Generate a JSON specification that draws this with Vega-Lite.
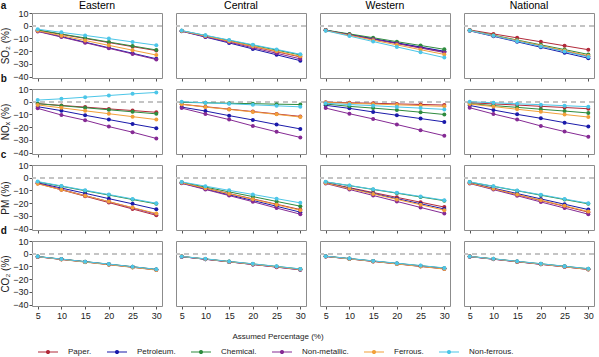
{
"$schema":"https://vega.github.io/schema/vega-lite/v6.json",
"padding":{"left":0,"top":0,"right":2,"bottom":0},
"config":{
"font":"Liberation Sans",
"view":{"stroke":"#8c8c8c","strokeWidth":1},
"facet":{"spacing":14},
"axis":{"grid":false,"domain":false,"tickColor":"#555555","tickSize":3,"labelFontSize":9,"labelColor":"#222222","titleFontSize":10,"titleFontWeight":"normal","titleColor":"#222222","labelPadding":1,"titlePadding":2,"labelOverlap":false,"labelFlush":false},
"title":{"fontSize":10,"fontWeight":"bold","anchor":"start","frame":"bounds","offset":1,"color":"#111111"}
},
"data":{"values":[
{"p":"SO2","r":"Eastern","s":"Paper.","x":5,"v":-3.5},{"p":"SO2","r":"Eastern","s":"Paper.","x":10,"v":-6.8},{"p":"SO2","r":"Eastern","s":"Paper.","x":15,"v":-10.0},{"p":"SO2","r":"Eastern","s":"Paper.","x":20,"v":-13.2},{"p":"SO2","r":"Eastern","s":"Paper.","x":25,"v":-16.4},{"p":"SO2","r":"Eastern","s":"Paper.","x":30,"v":-19.5},
{"p":"SO2","r":"Eastern","s":"Petroleum.","x":5,"v":-4.2},{"p":"SO2","r":"Eastern","s":"Petroleum.","x":10,"v":-8.5},{"p":"SO2","r":"Eastern","s":"Petroleum.","x":15,"v":-12.9},{"p":"SO2","r":"Eastern","s":"Petroleum.","x":20,"v":-17.3},{"p":"SO2","r":"Eastern","s":"Petroleum.","x":25,"v":-21.6},{"p":"SO2","r":"Eastern","s":"Petroleum.","x":30,"v":-25.9},
{"p":"SO2","r":"Eastern","s":"Chemical.","x":5,"v":-3.3},{"p":"SO2","r":"Eastern","s":"Chemical.","x":10,"v":-6.5},{"p":"SO2","r":"Eastern","s":"Chemical.","x":15,"v":-9.6},{"p":"SO2","r":"Eastern","s":"Chemical.","x":20,"v":-12.8},{"p":"SO2","r":"Eastern","s":"Chemical.","x":25,"v":-15.9},{"p":"SO2","r":"Eastern","s":"Chemical.","x":30,"v":-19.0},
{"p":"SO2","r":"Eastern","s":"Non-metallic.","x":5,"v":-4.5},{"p":"SO2","r":"Eastern","s":"Non-metallic.","x":10,"v":-8.9},{"p":"SO2","r":"Eastern","s":"Non-metallic.","x":15,"v":-13.3},{"p":"SO2","r":"Eastern","s":"Non-metallic.","x":20,"v":-17.7},{"p":"SO2","r":"Eastern","s":"Non-metallic.","x":25,"v":-22.1},{"p":"SO2","r":"Eastern","s":"Non-metallic.","x":30,"v":-26.5},
{"p":"SO2","r":"Eastern","s":"Ferrous.","x":5,"v":-4.0},{"p":"SO2","r":"Eastern","s":"Ferrous.","x":10,"v":-7.8},{"p":"SO2","r":"Eastern","s":"Ferrous.","x":15,"v":-11.6},{"p":"SO2","r":"Eastern","s":"Ferrous.","x":20,"v":-15.4},{"p":"SO2","r":"Eastern","s":"Ferrous.","x":25,"v":-19.2},{"p":"SO2","r":"Eastern","s":"Ferrous.","x":30,"v":-23.0},
{"p":"SO2","r":"Eastern","s":"Non-ferrous.","x":5,"v":-2.7},{"p":"SO2","r":"Eastern","s":"Non-ferrous.","x":10,"v":-5.2},{"p":"SO2","r":"Eastern","s":"Non-ferrous.","x":15,"v":-7.6},{"p":"SO2","r":"Eastern","s":"Non-ferrous.","x":20,"v":-10.1},{"p":"SO2","r":"Eastern","s":"Non-ferrous.","x":25,"v":-12.7},{"p":"SO2","r":"Eastern","s":"Non-ferrous.","x":30,"v":-15.3},
{"p":"SO2","r":"Central","s":"Paper.","x":5,"v":-4.0},{"p":"SO2","r":"Central","s":"Paper.","x":10,"v":-8.1},{"p":"SO2","r":"Central","s":"Paper.","x":15,"v":-12.2},{"p":"SO2","r":"Central","s":"Paper.","x":20,"v":-16.3},{"p":"SO2","r":"Central","s":"Paper.","x":25,"v":-20.4},{"p":"SO2","r":"Central","s":"Paper.","x":30,"v":-24.5},
{"p":"SO2","r":"Central","s":"Petroleum.","x":5,"v":-4.3},{"p":"SO2","r":"Central","s":"Petroleum.","x":10,"v":-8.9},{"p":"SO2","r":"Central","s":"Petroleum.","x":15,"v":-13.5},{"p":"SO2","r":"Central","s":"Petroleum.","x":20,"v":-18.2},{"p":"SO2","r":"Central","s":"Petroleum.","x":25,"v":-22.8},{"p":"SO2","r":"Central","s":"Petroleum.","x":30,"v":-27.4},
{"p":"SO2","r":"Central","s":"Chemical.","x":5,"v":-3.9},{"p":"SO2","r":"Central","s":"Chemical.","x":10,"v":-7.7},{"p":"SO2","r":"Central","s":"Chemical.","x":15,"v":-11.5},{"p":"SO2","r":"Central","s":"Chemical.","x":20,"v":-15.3},{"p":"SO2","r":"Central","s":"Chemical.","x":25,"v":-19.1},{"p":"SO2","r":"Central","s":"Chemical.","x":30,"v":-22.9},
{"p":"SO2","r":"Central","s":"Non-metallic.","x":5,"v":-4.2},{"p":"SO2","r":"Central","s":"Non-metallic.","x":10,"v":-8.6},{"p":"SO2","r":"Central","s":"Non-metallic.","x":15,"v":-12.9},{"p":"SO2","r":"Central","s":"Non-metallic.","x":20,"v":-17.3},{"p":"SO2","r":"Central","s":"Non-metallic.","x":25,"v":-21.6},{"p":"SO2","r":"Central","s":"Non-metallic.","x":30,"v":-26.0},
{"p":"SO2","r":"Central","s":"Ferrous.","x":5,"v":-4.1},{"p":"SO2","r":"Central","s":"Ferrous.","x":10,"v":-8.1},{"p":"SO2","r":"Central","s":"Ferrous.","x":15,"v":-12.1},{"p":"SO2","r":"Central","s":"Ferrous.","x":20,"v":-16.1},{"p":"SO2","r":"Central","s":"Ferrous.","x":25,"v":-20.0},{"p":"SO2","r":"Central","s":"Ferrous.","x":30,"v":-24.0},
{"p":"SO2","r":"Central","s":"Non-ferrous.","x":5,"v":-3.8},{"p":"SO2","r":"Central","s":"Non-ferrous.","x":10,"v":-7.5},{"p":"SO2","r":"Central","s":"Non-ferrous.","x":15,"v":-11.2},{"p":"SO2","r":"Central","s":"Non-ferrous.","x":20,"v":-14.9},{"p":"SO2","r":"Central","s":"Non-ferrous.","x":25,"v":-18.6},{"p":"SO2","r":"Central","s":"Non-ferrous.","x":30,"v":-22.4},
{"p":"SO2","r":"Western","s":"Paper.","x":5,"v":-3.5},{"p":"SO2","r":"Western","s":"Paper.","x":10,"v":-6.9},{"p":"SO2","r":"Western","s":"Paper.","x":15,"v":-10.3},{"p":"SO2","r":"Western","s":"Paper.","x":20,"v":-13.7},{"p":"SO2","r":"Western","s":"Paper.","x":25,"v":-17.1},{"p":"SO2","r":"Western","s":"Paper.","x":30,"v":-20.5},
{"p":"SO2","r":"Western","s":"Petroleum.","x":5,"v":-3.6},{"p":"SO2","r":"Western","s":"Petroleum.","x":10,"v":-6.9},{"p":"SO2","r":"Western","s":"Petroleum.","x":15,"v":-10.2},{"p":"SO2","r":"Western","s":"Petroleum.","x":20,"v":-13.4},{"p":"SO2","r":"Western","s":"Petroleum.","x":25,"v":-16.7},{"p":"SO2","r":"Western","s":"Petroleum.","x":30,"v":-20.0},
{"p":"SO2","r":"Western","s":"Chemical.","x":5,"v":-3.4},{"p":"SO2","r":"Western","s":"Chemical.","x":10,"v":-6.4},{"p":"SO2","r":"Western","s":"Chemical.","x":15,"v":-9.4},{"p":"SO2","r":"Western","s":"Chemical.","x":20,"v":-12.5},{"p":"SO2","r":"Western","s":"Chemical.","x":25,"v":-15.5},{"p":"SO2","r":"Western","s":"Chemical.","x":30,"v":-18.5},
{"p":"SO2","r":"Western","s":"Non-metallic.","x":5,"v":-3.6},{"p":"SO2","r":"Western","s":"Non-metallic.","x":10,"v":-7.1},{"p":"SO2","r":"Western","s":"Non-metallic.","x":15,"v":-10.6},{"p":"SO2","r":"Western","s":"Non-metallic.","x":20,"v":-14.0},{"p":"SO2","r":"Western","s":"Non-metallic.","x":25,"v":-17.5},{"p":"SO2","r":"Western","s":"Non-metallic.","x":30,"v":-21.0},
{"p":"SO2","r":"Western","s":"Ferrous.","x":5,"v":-3.8},{"p":"SO2","r":"Western","s":"Ferrous.","x":10,"v":-7.5},{"p":"SO2","r":"Western","s":"Ferrous.","x":15,"v":-11.3},{"p":"SO2","r":"Western","s":"Ferrous.","x":20,"v":-15.0},{"p":"SO2","r":"Western","s":"Ferrous.","x":25,"v":-18.8},{"p":"SO2","r":"Western","s":"Ferrous.","x":30,"v":-22.5},
{"p":"SO2","r":"Western","s":"Non-ferrous.","x":5,"v":-3.9},{"p":"SO2","r":"Western","s":"Non-ferrous.","x":10,"v":-8.1},{"p":"SO2","r":"Western","s":"Non-ferrous.","x":15,"v":-12.4},{"p":"SO2","r":"Western","s":"Non-ferrous.","x":20,"v":-16.6},{"p":"SO2","r":"Western","s":"Non-ferrous.","x":25,"v":-20.8},{"p":"SO2","r":"Western","s":"Non-ferrous.","x":30,"v":-25.0},
{"p":"SO2","r":"National","s":"Paper.","x":5,"v":-3.3},{"p":"SO2","r":"National","s":"Paper.","x":10,"v":-6.4},{"p":"SO2","r":"National","s":"Paper.","x":15,"v":-9.5},{"p":"SO2","r":"National","s":"Paper.","x":20,"v":-12.6},{"p":"SO2","r":"National","s":"Paper.","x":25,"v":-15.7},{"p":"SO2","r":"National","s":"Paper.","x":30,"v":-18.8},
{"p":"SO2","r":"National","s":"Petroleum.","x":5,"v":-4.0},{"p":"SO2","r":"National","s":"Petroleum.","x":10,"v":-8.3},{"p":"SO2","r":"National","s":"Petroleum.","x":15,"v":-12.6},{"p":"SO2","r":"National","s":"Petroleum.","x":20,"v":-16.9},{"p":"SO2","r":"National","s":"Petroleum.","x":25,"v":-21.2},{"p":"SO2","r":"National","s":"Petroleum.","x":30,"v":-25.5},
{"p":"SO2","r":"National","s":"Chemical.","x":5,"v":-3.6},{"p":"SO2","r":"National","s":"Chemical.","x":10,"v":-7.4},{"p":"SO2","r":"National","s":"Chemical.","x":15,"v":-11.2},{"p":"SO2","r":"National","s":"Chemical.","x":20,"v":-15.0},{"p":"SO2","r":"National","s":"Chemical.","x":25,"v":-18.7},{"p":"SO2","r":"National","s":"Chemical.","x":30,"v":-22.5},
{"p":"SO2","r":"National","s":"Non-metallic.","x":5,"v":-3.8},{"p":"SO2","r":"National","s":"Non-metallic.","x":10,"v":-7.8},{"p":"SO2","r":"National","s":"Non-metallic.","x":15,"v":-11.9},{"p":"SO2","r":"National","s":"Non-metallic.","x":20,"v":-15.9},{"p":"SO2","r":"National","s":"Non-metallic.","x":25,"v":-19.9},{"p":"SO2","r":"National","s":"Non-metallic.","x":30,"v":-24.0},
{"p":"SO2","r":"National","s":"Ferrous.","x":5,"v":-3.7},{"p":"SO2","r":"National","s":"Ferrous.","x":10,"v":-7.7},{"p":"SO2","r":"National","s":"Ferrous.","x":15,"v":-11.6},{"p":"SO2","r":"National","s":"Ferrous.","x":20,"v":-15.6},{"p":"SO2","r":"National","s":"Ferrous.","x":25,"v":-19.5},{"p":"SO2","r":"National","s":"Ferrous.","x":30,"v":-23.5},
{"p":"SO2","r":"National","s":"Non-ferrous.","x":5,"v":-3.8},{"p":"SO2","r":"National","s":"Non-ferrous.","x":10,"v":-7.9},{"p":"SO2","r":"National","s":"Non-ferrous.","x":15,"v":-12.1},{"p":"SO2","r":"National","s":"Non-ferrous.","x":20,"v":-16.2},{"p":"SO2","r":"National","s":"Non-ferrous.","x":25,"v":-20.3},{"p":"SO2","r":"National","s":"Non-ferrous.","x":30,"v":-24.5},
{"p":"NOx","r":"Eastern","s":"Paper.","x":5,"v":-1.5},{"p":"NOx","r":"Eastern","s":"Paper.","x":10,"v":-2.9},{"p":"NOx","r":"Eastern","s":"Paper.","x":15,"v":-4.2},{"p":"NOx","r":"Eastern","s":"Paper.","x":20,"v":-5.6},{"p":"NOx","r":"Eastern","s":"Paper.","x":25,"v":-6.9},{"p":"NOx","r":"Eastern","s":"Paper.","x":30,"v":-8.3},
{"p":"NOx","r":"Eastern","s":"Petroleum.","x":5,"v":-3.9},{"p":"NOx","r":"Eastern","s":"Petroleum.","x":10,"v":-7.0},{"p":"NOx","r":"Eastern","s":"Petroleum.","x":15,"v":-10.6},{"p":"NOx","r":"Eastern","s":"Petroleum.","x":20,"v":-14.0},{"p":"NOx","r":"Eastern","s":"Petroleum.","x":25,"v":-17.4},{"p":"NOx","r":"Eastern","s":"Petroleum.","x":30,"v":-20.7},
{"p":"NOx","r":"Eastern","s":"Chemical.","x":5,"v":-1.5},{"p":"NOx","r":"Eastern","s":"Chemical.","x":10,"v":-3.1},{"p":"NOx","r":"Eastern","s":"Chemical.","x":15,"v":-4.7},{"p":"NOx","r":"Eastern","s":"Chemical.","x":20,"v":-6.3},{"p":"NOx","r":"Eastern","s":"Chemical.","x":25,"v":-7.9},{"p":"NOx","r":"Eastern","s":"Chemical.","x":30,"v":-9.5},
{"p":"NOx","r":"Eastern","s":"Non-metallic.","x":5,"v":-5.2},{"p":"NOx","r":"Eastern","s":"Non-metallic.","x":10,"v":-10.4},{"p":"NOx","r":"Eastern","s":"Non-metallic.","x":15,"v":-14.5},{"p":"NOx","r":"Eastern","s":"Non-metallic.","x":20,"v":-19.5},{"p":"NOx","r":"Eastern","s":"Non-metallic.","x":25,"v":-23.9},{"p":"NOx","r":"Eastern","s":"Non-metallic.","x":30,"v":-28.8},
{"p":"NOx","r":"Eastern","s":"Ferrous.","x":5,"v":-2.5},{"p":"NOx","r":"Eastern","s":"Ferrous.","x":10,"v":-4.8},{"p":"NOx","r":"Eastern","s":"Ferrous.","x":15,"v":-7.1},{"p":"NOx","r":"Eastern","s":"Ferrous.","x":20,"v":-9.4},{"p":"NOx","r":"Eastern","s":"Ferrous.","x":25,"v":-11.7},{"p":"NOx","r":"Eastern","s":"Ferrous.","x":30,"v":-14.0},
{"p":"NOx","r":"Eastern","s":"Non-ferrous.","x":5,"v":1.3},{"p":"NOx","r":"Eastern","s":"Non-ferrous.","x":10,"v":2.3},{"p":"NOx","r":"Eastern","s":"Non-ferrous.","x":15,"v":3.6},{"p":"NOx","r":"Eastern","s":"Non-ferrous.","x":20,"v":4.9},{"p":"NOx","r":"Eastern","s":"Non-ferrous.","x":25,"v":6.2},{"p":"NOx","r":"Eastern","s":"Non-ferrous.","x":30,"v":7.3},
{"p":"NOx","r":"Central","s":"Paper.","x":5,"v":-2.0},{"p":"NOx","r":"Central","s":"Paper.","x":10,"v":-3.9},{"p":"NOx","r":"Central","s":"Paper.","x":15,"v":-5.8},{"p":"NOx","r":"Central","s":"Paper.","x":20,"v":-7.7},{"p":"NOx","r":"Central","s":"Paper.","x":25,"v":-9.6},{"p":"NOx","r":"Central","s":"Paper.","x":30,"v":-11.5},
{"p":"NOx","r":"Central","s":"Petroleum.","x":5,"v":-4.2},{"p":"NOx","r":"Central","s":"Petroleum.","x":10,"v":-7.3},{"p":"NOx","r":"Central","s":"Petroleum.","x":15,"v":-10.9},{"p":"NOx","r":"Central","s":"Petroleum.","x":20,"v":-14.3},{"p":"NOx","r":"Central","s":"Petroleum.","x":25,"v":-17.9},{"p":"NOx","r":"Central","s":"Petroleum.","x":30,"v":-21.3},
{"p":"NOx","r":"Central","s":"Chemical.","x":5,"v":-0.5},{"p":"NOx","r":"Central","s":"Chemical.","x":10,"v":-0.8},{"p":"NOx","r":"Central","s":"Chemical.","x":15,"v":-1.2},{"p":"NOx","r":"Central","s":"Chemical.","x":20,"v":-1.5},{"p":"NOx","r":"Central","s":"Chemical.","x":25,"v":-1.9},{"p":"NOx","r":"Central","s":"Chemical.","x":30,"v":-2.2},
{"p":"NOx","r":"Central","s":"Non-metallic.","x":5,"v":-5.0},{"p":"NOx","r":"Central","s":"Non-metallic.","x":10,"v":-9.6},{"p":"NOx","r":"Central","s":"Non-metallic.","x":15,"v":-14.0},{"p":"NOx","r":"Central","s":"Non-metallic.","x":20,"v":-19.0},{"p":"NOx","r":"Central","s":"Non-metallic.","x":25,"v":-23.6},{"p":"NOx","r":"Central","s":"Non-metallic.","x":30,"v":-28.0},
{"p":"NOx","r":"Central","s":"Ferrous.","x":5,"v":-2.0},{"p":"NOx","r":"Central","s":"Ferrous.","x":10,"v":-4.2},{"p":"NOx","r":"Central","s":"Ferrous.","x":15,"v":-6.0},{"p":"NOx","r":"Central","s":"Ferrous.","x":20,"v":-8.0},{"p":"NOx","r":"Central","s":"Ferrous.","x":25,"v":-9.9},{"p":"NOx","r":"Central","s":"Ferrous.","x":30,"v":-12.0},
{"p":"NOx","r":"Central","s":"Non-ferrous.","x":5,"v":0.0},{"p":"NOx","r":"Central","s":"Non-ferrous.","x":10,"v":-0.8},{"p":"NOx","r":"Central","s":"Non-ferrous.","x":15,"v":-1.6},{"p":"NOx","r":"Central","s":"Non-ferrous.","x":20,"v":-2.4},{"p":"NOx","r":"Central","s":"Non-ferrous.","x":25,"v":-3.2},{"p":"NOx","r":"Central","s":"Non-ferrous.","x":30,"v":-4.0},
{"p":"NOx","r":"Western","s":"Paper.","x":5,"v":-0.3},{"p":"NOx","r":"Western","s":"Paper.","x":10,"v":-0.8},{"p":"NOx","r":"Western","s":"Paper.","x":15,"v":-1.2},{"p":"NOx","r":"Western","s":"Paper.","x":20,"v":-1.7},{"p":"NOx","r":"Western","s":"Paper.","x":25,"v":-2.1},{"p":"NOx","r":"Western","s":"Paper.","x":30,"v":-2.6},
{"p":"NOx","r":"Western","s":"Petroleum.","x":5,"v":-2.8},{"p":"NOx","r":"Western","s":"Petroleum.","x":10,"v":-5.2},{"p":"NOx","r":"Western","s":"Petroleum.","x":15,"v":-8.0},{"p":"NOx","r":"Western","s":"Petroleum.","x":20,"v":-10.6},{"p":"NOx","r":"Western","s":"Petroleum.","x":25,"v":-13.2},{"p":"NOx","r":"Western","s":"Petroleum.","x":30,"v":-15.8},
{"p":"NOx","r":"Western","s":"Chemical.","x":5,"v":-1.8},{"p":"NOx","r":"Western","s":"Chemical.","x":10,"v":-3.6},{"p":"NOx","r":"Western","s":"Chemical.","x":15,"v":-5.0},{"p":"NOx","r":"Western","s":"Chemical.","x":20,"v":-6.5},{"p":"NOx","r":"Western","s":"Chemical.","x":25,"v":-8.2},{"p":"NOx","r":"Western","s":"Chemical.","x":30,"v":-10.0},
{"p":"NOx","r":"Western","s":"Non-metallic.","x":5,"v":-5.0},{"p":"NOx","r":"Western","s":"Non-metallic.","x":10,"v":-9.4},{"p":"NOx","r":"Western","s":"Non-metallic.","x":15,"v":-13.5},{"p":"NOx","r":"Western","s":"Non-metallic.","x":20,"v":-17.9},{"p":"NOx","r":"Western","s":"Non-metallic.","x":25,"v":-22.3},{"p":"NOx","r":"Western","s":"Non-metallic.","x":30,"v":-26.7},
{"p":"NOx","r":"Western","s":"Ferrous.","x":5,"v":-0.6},{"p":"NOx","r":"Western","s":"Ferrous.","x":10,"v":-1.2},{"p":"NOx","r":"Western","s":"Ferrous.","x":15,"v":-1.8},{"p":"NOx","r":"Western","s":"Ferrous.","x":20,"v":-2.4},{"p":"NOx","r":"Western","s":"Ferrous.","x":25,"v":-3.0},{"p":"NOx","r":"Western","s":"Ferrous.","x":30,"v":-3.6},
{"p":"NOx","r":"Western","s":"Non-ferrous.","x":5,"v":-1.2},{"p":"NOx","r":"Western","s":"Non-ferrous.","x":10,"v":-2.2},{"p":"NOx","r":"Western","s":"Non-ferrous.","x":15,"v":-3.1},{"p":"NOx","r":"Western","s":"Non-ferrous.","x":20,"v":-4.1},{"p":"NOx","r":"Western","s":"Non-ferrous.","x":25,"v":-5.0},{"p":"NOx","r":"Western","s":"Non-ferrous.","x":30,"v":-6.0},
{"p":"NOx","r":"National","s":"Paper.","x":5,"v":-0.8},{"p":"NOx","r":"National","s":"Paper.","x":10,"v":-1.7},{"p":"NOx","r":"National","s":"Paper.","x":15,"v":-2.6},{"p":"NOx","r":"National","s":"Paper.","x":20,"v":-3.6},{"p":"NOx","r":"National","s":"Paper.","x":25,"v":-4.5},{"p":"NOx","r":"National","s":"Paper.","x":30,"v":-5.5},
{"p":"NOx","r":"National","s":"Petroleum.","x":5,"v":-2.9},{"p":"NOx","r":"National","s":"Petroleum.","x":10,"v":-6.5},{"p":"NOx","r":"National","s":"Petroleum.","x":15,"v":-9.9},{"p":"NOx","r":"National","s":"Petroleum.","x":20,"v":-13.0},{"p":"NOx","r":"National","s":"Petroleum.","x":25,"v":-16.4},{"p":"NOx","r":"National","s":"Petroleum.","x":30,"v":-19.5},
{"p":"NOx","r":"National","s":"Chemical.","x":5,"v":-1.5},{"p":"NOx","r":"National","s":"Chemical.","x":10,"v":-3.0},{"p":"NOx","r":"National","s":"Chemical.","x":15,"v":-4.4},{"p":"NOx","r":"National","s":"Chemical.","x":20,"v":-5.9},{"p":"NOx","r":"National","s":"Chemical.","x":25,"v":-7.3},{"p":"NOx","r":"National","s":"Chemical.","x":30,"v":-8.8},
{"p":"NOx","r":"National","s":"Non-metallic.","x":5,"v":-4.7},{"p":"NOx","r":"National","s":"Non-metallic.","x":10,"v":-9.6},{"p":"NOx","r":"National","s":"Non-metallic.","x":15,"v":-14.0},{"p":"NOx","r":"National","s":"Non-metallic.","x":20,"v":-19.0},{"p":"NOx","r":"National","s":"Non-metallic.","x":25,"v":-23.4},{"p":"NOx","r":"National","s":"Non-metallic.","x":30,"v":-27.5},
{"p":"NOx","r":"National","s":"Ferrous.","x":5,"v":-1.8},{"p":"NOx","r":"National","s":"Ferrous.","x":10,"v":-3.8},{"p":"NOx","r":"National","s":"Ferrous.","x":15,"v":-5.9},{"p":"NOx","r":"National","s":"Ferrous.","x":20,"v":-7.9},{"p":"NOx","r":"National","s":"Ferrous.","x":25,"v":-10.0},{"p":"NOx","r":"National","s":"Ferrous.","x":30,"v":-12.0},
{"p":"NOx","r":"National","s":"Non-ferrous.","x":5,"v":0.0},{"p":"NOx","r":"National","s":"Non-ferrous.","x":10,"v":-0.8},{"p":"NOx","r":"National","s":"Non-ferrous.","x":15,"v":-1.6},{"p":"NOx","r":"National","s":"Non-ferrous.","x":20,"v":-2.3},{"p":"NOx","r":"National","s":"Non-ferrous.","x":25,"v":-3.1},{"p":"NOx","r":"National","s":"Non-ferrous.","x":30,"v":-3.9},
{"p":"PM","r":"Eastern","s":"Paper.","x":5,"v":-4.5},{"p":"PM","r":"Eastern","s":"Paper.","x":10,"v":-9.5},{"p":"PM","r":"Eastern","s":"Paper.","x":15,"v":-14.5},{"p":"PM","r":"Eastern","s":"Paper.","x":20,"v":-19.5},{"p":"PM","r":"Eastern","s":"Paper.","x":25,"v":-24.5},{"p":"PM","r":"Eastern","s":"Paper.","x":30,"v":-29.5},
{"p":"PM","r":"Eastern","s":"Petroleum.","x":5,"v":-4.0},{"p":"PM","r":"Eastern","s":"Petroleum.","x":10,"v":-8.1},{"p":"PM","r":"Eastern","s":"Petroleum.","x":15,"v":-12.2},{"p":"PM","r":"Eastern","s":"Petroleum.","x":20,"v":-16.4},{"p":"PM","r":"Eastern","s":"Petroleum.","x":25,"v":-20.5},{"p":"PM","r":"Eastern","s":"Petroleum.","x":30,"v":-24.7},
{"p":"PM","r":"Eastern","s":"Chemical.","x":5,"v":-3.3},{"p":"PM","r":"Eastern","s":"Chemical.","x":10,"v":-6.7},{"p":"PM","r":"Eastern","s":"Chemical.","x":15,"v":-10.2},{"p":"PM","r":"Eastern","s":"Chemical.","x":20,"v":-13.6},{"p":"PM","r":"Eastern","s":"Chemical.","x":25,"v":-17.1},{"p":"PM","r":"Eastern","s":"Chemical.","x":30,"v":-20.5},
{"p":"PM","r":"Eastern","s":"Non-metallic.","x":5,"v":-4.3},{"p":"PM","r":"Eastern","s":"Non-metallic.","x":10,"v":-9.1},{"p":"PM","r":"Eastern","s":"Non-metallic.","x":15,"v":-14.0},{"p":"PM","r":"Eastern","s":"Non-metallic.","x":20,"v":-18.8},{"p":"PM","r":"Eastern","s":"Non-metallic.","x":25,"v":-23.7},{"p":"PM","r":"Eastern","s":"Non-metallic.","x":30,"v":-28.5},
{"p":"PM","r":"Eastern","s":"Ferrous.","x":5,"v":-4.8},{"p":"PM","r":"Eastern","s":"Ferrous.","x":10,"v":-9.4},{"p":"PM","r":"Eastern","s":"Ferrous.","x":15,"v":-14.1},{"p":"PM","r":"Eastern","s":"Ferrous.","x":20,"v":-18.7},{"p":"PM","r":"Eastern","s":"Ferrous.","x":25,"v":-23.4},{"p":"PM","r":"Eastern","s":"Ferrous.","x":30,"v":-28.0},
{"p":"PM","r":"Eastern","s":"Non-ferrous.","x":5,"v":-3.0},{"p":"PM","r":"Eastern","s":"Non-ferrous.","x":10,"v":-6.4},{"p":"PM","r":"Eastern","s":"Non-ferrous.","x":15,"v":-9.8},{"p":"PM","r":"Eastern","s":"Non-ferrous.","x":20,"v":-13.2},{"p":"PM","r":"Eastern","s":"Non-ferrous.","x":25,"v":-16.6},{"p":"PM","r":"Eastern","s":"Non-ferrous.","x":30,"v":-20.0},
{"p":"PM","r":"Central","s":"Paper.","x":5,"v":-4.0},{"p":"PM","r":"Central","s":"Paper.","x":10,"v":-8.2},{"p":"PM","r":"Central","s":"Paper.","x":15,"v":-12.4},{"p":"PM","r":"Central","s":"Paper.","x":20,"v":-16.6},{"p":"PM","r":"Central","s":"Paper.","x":25,"v":-20.8},{"p":"PM","r":"Central","s":"Paper.","x":30,"v":-25.0},
{"p":"PM","r":"Central","s":"Petroleum.","x":5,"v":-4.2},{"p":"PM","r":"Central","s":"Petroleum.","x":10,"v":-8.8},{"p":"PM","r":"Central","s":"Petroleum.","x":15,"v":-13.4},{"p":"PM","r":"Central","s":"Petroleum.","x":20,"v":-17.8},{"p":"PM","r":"Central","s":"Petroleum.","x":25,"v":-22.4},{"p":"PM","r":"Central","s":"Petroleum.","x":30,"v":-27.0},
{"p":"PM","r":"Central","s":"Chemical.","x":5,"v":-3.6},{"p":"PM","r":"Central","s":"Chemical.","x":10,"v":-7.3},{"p":"PM","r":"Central","s":"Chemical.","x":15,"v":-11.1},{"p":"PM","r":"Central","s":"Chemical.","x":20,"v":-14.8},{"p":"PM","r":"Central","s":"Chemical.","x":25,"v":-18.6},{"p":"PM","r":"Central","s":"Chemical.","x":30,"v":-22.3},
{"p":"PM","r":"Central","s":"Non-metallic.","x":5,"v":-4.4},{"p":"PM","r":"Central","s":"Non-metallic.","x":10,"v":-9.2},{"p":"PM","r":"Central","s":"Non-metallic.","x":15,"v":-14.0},{"p":"PM","r":"Central","s":"Non-metallic.","x":20,"v":-18.8},{"p":"PM","r":"Central","s":"Non-metallic.","x":25,"v":-23.8},{"p":"PM","r":"Central","s":"Non-metallic.","x":30,"v":-28.6},
{"p":"PM","r":"Central","s":"Ferrous.","x":5,"v":-4.0},{"p":"PM","r":"Central","s":"Ferrous.","x":10,"v":-8.3},{"p":"PM","r":"Central","s":"Ferrous.","x":15,"v":-12.6},{"p":"PM","r":"Central","s":"Ferrous.","x":20,"v":-16.9},{"p":"PM","r":"Central","s":"Ferrous.","x":25,"v":-21.2},{"p":"PM","r":"Central","s":"Ferrous.","x":30,"v":-25.5},
{"p":"PM","r":"Central","s":"Non-ferrous.","x":5,"v":-3.3},{"p":"PM","r":"Central","s":"Non-ferrous.","x":10,"v":-6.6},{"p":"PM","r":"Central","s":"Non-ferrous.","x":15,"v":-9.9},{"p":"PM","r":"Central","s":"Non-ferrous.","x":20,"v":-13.1},{"p":"PM","r":"Central","s":"Non-ferrous.","x":25,"v":-16.4},{"p":"PM","r":"Central","s":"Non-ferrous.","x":30,"v":-19.7},
{"p":"PM","r":"Western","s":"Paper.","x":5,"v":-4.0},{"p":"PM","r":"Western","s":"Paper.","x":10,"v":-7.8},{"p":"PM","r":"Western","s":"Paper.","x":15,"v":-11.6},{"p":"PM","r":"Western","s":"Paper.","x":20,"v":-15.4},{"p":"PM","r":"Western","s":"Paper.","x":25,"v":-19.2},{"p":"PM","r":"Western","s":"Paper.","x":30,"v":-23.0},
{"p":"PM","r":"Western","s":"Petroleum.","x":5,"v":-4.1},{"p":"PM","r":"Western","s":"Petroleum.","x":10,"v":-8.2},{"p":"PM","r":"Western","s":"Petroleum.","x":15,"v":-12.3},{"p":"PM","r":"Western","s":"Petroleum.","x":20,"v":-16.4},{"p":"PM","r":"Western","s":"Petroleum.","x":25,"v":-20.4},{"p":"PM","r":"Western","s":"Petroleum.","x":30,"v":-24.5},
{"p":"PM","r":"Western","s":"Chemical.","x":5,"v":-3.3},{"p":"PM","r":"Western","s":"Chemical.","x":10,"v":-6.2},{"p":"PM","r":"Western","s":"Chemical.","x":15,"v":-9.2},{"p":"PM","r":"Western","s":"Chemical.","x":20,"v":-12.1},{"p":"PM","r":"Western","s":"Chemical.","x":25,"v":-15.1},{"p":"PM","r":"Western","s":"Chemical.","x":30,"v":-18.0},
{"p":"PM","r":"Western","s":"Non-metallic.","x":5,"v":-4.5},{"p":"PM","r":"Western","s":"Non-metallic.","x":10,"v":-9.2},{"p":"PM","r":"Western","s":"Non-metallic.","x":15,"v":-13.9},{"p":"PM","r":"Western","s":"Non-metallic.","x":20,"v":-18.6},{"p":"PM","r":"Western","s":"Non-metallic.","x":25,"v":-23.3},{"p":"PM","r":"Western","s":"Non-metallic.","x":30,"v":-28.0},
{"p":"PM","r":"Western","s":"Ferrous.","x":5,"v":-4.2},{"p":"PM","r":"Western","s":"Ferrous.","x":10,"v":-8.5},{"p":"PM","r":"Western","s":"Ferrous.","x":15,"v":-12.7},{"p":"PM","r":"Western","s":"Ferrous.","x":20,"v":-17.0},{"p":"PM","r":"Western","s":"Ferrous.","x":25,"v":-21.2},{"p":"PM","r":"Western","s":"Ferrous.","x":30,"v":-25.5},
{"p":"PM","r":"Western","s":"Non-ferrous.","x":5,"v":-3.2},{"p":"PM","r":"Western","s":"Non-ferrous.","x":10,"v":-6.1},{"p":"PM","r":"Western","s":"Non-ferrous.","x":15,"v":-9.0},{"p":"PM","r":"Western","s":"Non-ferrous.","x":20,"v":-11.8},{"p":"PM","r":"Western","s":"Non-ferrous.","x":25,"v":-14.7},{"p":"PM","r":"Western","s":"Non-ferrous.","x":30,"v":-17.6},
{"p":"PM","r":"National","s":"Paper.","x":5,"v":-4.2},{"p":"PM","r":"National","s":"Paper.","x":10,"v":-8.8},{"p":"PM","r":"National","s":"Paper.","x":15,"v":-13.3},{"p":"PM","r":"National","s":"Paper.","x":20,"v":-17.9},{"p":"PM","r":"National","s":"Paper.","x":25,"v":-22.4},{"p":"PM","r":"National","s":"Paper.","x":30,"v":-27.0},
{"p":"PM","r":"National","s":"Petroleum.","x":5,"v":-4.0},{"p":"PM","r":"National","s":"Petroleum.","x":10,"v":-8.2},{"p":"PM","r":"National","s":"Petroleum.","x":15,"v":-12.4},{"p":"PM","r":"National","s":"Petroleum.","x":20,"v":-16.6},{"p":"PM","r":"National","s":"Petroleum.","x":25,"v":-20.8},{"p":"PM","r":"National","s":"Petroleum.","x":30,"v":-25.0},
{"p":"PM","r":"National","s":"Chemical.","x":5,"v":-3.4},{"p":"PM","r":"National","s":"Chemical.","x":10,"v":-6.8},{"p":"PM","r":"National","s":"Chemical.","x":15,"v":-10.2},{"p":"PM","r":"National","s":"Chemical.","x":20,"v":-13.7},{"p":"PM","r":"National","s":"Chemical.","x":25,"v":-17.1},{"p":"PM","r":"National","s":"Chemical.","x":30,"v":-20.5},
{"p":"PM","r":"National","s":"Non-metallic.","x":5,"v":-4.5},{"p":"PM","r":"National","s":"Non-metallic.","x":10,"v":-9.3},{"p":"PM","r":"National","s":"Non-metallic.","x":15,"v":-14.1},{"p":"PM","r":"National","s":"Non-metallic.","x":20,"v":-19.0},{"p":"PM","r":"National","s":"Non-metallic.","x":25,"v":-23.8},{"p":"PM","r":"National","s":"Non-metallic.","x":30,"v":-28.6},
{"p":"PM","r":"National","s":"Ferrous.","x":5,"v":-4.2},{"p":"PM","r":"National","s":"Ferrous.","x":10,"v":-8.7},{"p":"PM","r":"National","s":"Ferrous.","x":15,"v":-13.1},{"p":"PM","r":"National","s":"Ferrous.","x":20,"v":-17.6},{"p":"PM","r":"National","s":"Ferrous.","x":25,"v":-22.0},{"p":"PM","r":"National","s":"Ferrous.","x":30,"v":-26.5},
{"p":"PM","r":"National","s":"Non-ferrous.","x":5,"v":-3.3},{"p":"PM","r":"National","s":"Non-ferrous.","x":10,"v":-6.6},{"p":"PM","r":"National","s":"Non-ferrous.","x":15,"v":-10.0},{"p":"PM","r":"National","s":"Non-ferrous.","x":20,"v":-13.3},{"p":"PM","r":"National","s":"Non-ferrous.","x":25,"v":-16.7},{"p":"PM","r":"National","s":"Non-ferrous.","x":30,"v":-20.0},
{"p":"CO2","r":"Eastern","s":"Paper.","x":5,"v":-2.3},{"p":"CO2","r":"Eastern","s":"Paper.","x":10,"v":-4.3},{"p":"CO2","r":"Eastern","s":"Paper.","x":15,"v":-6.3},{"p":"CO2","r":"Eastern","s":"Paper.","x":20,"v":-8.3},{"p":"CO2","r":"Eastern","s":"Paper.","x":25,"v":-10.3},{"p":"CO2","r":"Eastern","s":"Paper.","x":30,"v":-12.4},
{"p":"CO2","r":"Eastern","s":"Petroleum.","x":5,"v":-2.3},{"p":"CO2","r":"Eastern","s":"Petroleum.","x":10,"v":-4.4},{"p":"CO2","r":"Eastern","s":"Petroleum.","x":15,"v":-6.4},{"p":"CO2","r":"Eastern","s":"Petroleum.","x":20,"v":-8.4},{"p":"CO2","r":"Eastern","s":"Petroleum.","x":25,"v":-10.5},{"p":"CO2","r":"Eastern","s":"Petroleum.","x":30,"v":-12.6},
{"p":"CO2","r":"Eastern","s":"Chemical.","x":5,"v":-2.2},{"p":"CO2","r":"Eastern","s":"Chemical.","x":10,"v":-4.2},{"p":"CO2","r":"Eastern","s":"Chemical.","x":15,"v":-6.2},{"p":"CO2","r":"Eastern","s":"Chemical.","x":20,"v":-8.2},{"p":"CO2","r":"Eastern","s":"Chemical.","x":25,"v":-10.2},{"p":"CO2","r":"Eastern","s":"Chemical.","x":30,"v":-12.3},
{"p":"CO2","r":"Eastern","s":"Non-metallic.","x":5,"v":-2.4},{"p":"CO2","r":"Eastern","s":"Non-metallic.","x":10,"v":-4.4},{"p":"CO2","r":"Eastern","s":"Non-metallic.","x":15,"v":-6.4},{"p":"CO2","r":"Eastern","s":"Non-metallic.","x":20,"v":-8.5},{"p":"CO2","r":"Eastern","s":"Non-metallic.","x":25,"v":-10.5},{"p":"CO2","r":"Eastern","s":"Non-metallic.","x":30,"v":-12.6},
{"p":"CO2","r":"Eastern","s":"Ferrous.","x":5,"v":-2.4},{"p":"CO2","r":"Eastern","s":"Ferrous.","x":10,"v":-4.5},{"p":"CO2","r":"Eastern","s":"Ferrous.","x":15,"v":-6.6},{"p":"CO2","r":"Eastern","s":"Ferrous.","x":20,"v":-8.6},{"p":"CO2","r":"Eastern","s":"Ferrous.","x":25,"v":-10.7},{"p":"CO2","r":"Eastern","s":"Ferrous.","x":30,"v":-12.8},
{"p":"CO2","r":"Eastern","s":"Non-ferrous.","x":5,"v":-2.2},{"p":"CO2","r":"Eastern","s":"Non-ferrous.","x":10,"v":-4.2},{"p":"CO2","r":"Eastern","s":"Non-ferrous.","x":15,"v":-6.2},{"p":"CO2","r":"Eastern","s":"Non-ferrous.","x":20,"v":-8.1},{"p":"CO2","r":"Eastern","s":"Non-ferrous.","x":25,"v":-10.2},{"p":"CO2","r":"Eastern","s":"Non-ferrous.","x":30,"v":-12.2},
{"p":"CO2","r":"Central","s":"Paper.","x":5,"v":-2.2},{"p":"CO2","r":"Central","s":"Paper.","x":10,"v":-4.2},{"p":"CO2","r":"Central","s":"Paper.","x":15,"v":-6.2},{"p":"CO2","r":"Central","s":"Paper.","x":20,"v":-8.2},{"p":"CO2","r":"Central","s":"Paper.","x":25,"v":-10.2},{"p":"CO2","r":"Central","s":"Paper.","x":30,"v":-12.2},
{"p":"CO2","r":"Central","s":"Petroleum.","x":5,"v":-2.3},{"p":"CO2","r":"Central","s":"Petroleum.","x":10,"v":-4.3},{"p":"CO2","r":"Central","s":"Petroleum.","x":15,"v":-6.3},{"p":"CO2","r":"Central","s":"Petroleum.","x":20,"v":-8.4},{"p":"CO2","r":"Central","s":"Petroleum.","x":25,"v":-10.4},{"p":"CO2","r":"Central","s":"Petroleum.","x":30,"v":-12.5},
{"p":"CO2","r":"Central","s":"Chemical.","x":5,"v":-2.1},{"p":"CO2","r":"Central","s":"Chemical.","x":10,"v":-4.1},{"p":"CO2","r":"Central","s":"Chemical.","x":15,"v":-6.1},{"p":"CO2","r":"Central","s":"Chemical.","x":20,"v":-8.0},{"p":"CO2","r":"Central","s":"Chemical.","x":25,"v":-10.0},{"p":"CO2","r":"Central","s":"Chemical.","x":30,"v":-12.0},
{"p":"CO2","r":"Central","s":"Non-metallic.","x":5,"v":-2.3},{"p":"CO2","r":"Central","s":"Non-metallic.","x":10,"v":-4.3},{"p":"CO2","r":"Central","s":"Non-metallic.","x":15,"v":-6.4},{"p":"CO2","r":"Central","s":"Non-metallic.","x":20,"v":-8.4},{"p":"CO2","r":"Central","s":"Non-metallic.","x":25,"v":-10.5},{"p":"CO2","r":"Central","s":"Non-metallic.","x":30,"v":-12.6},
{"p":"CO2","r":"Central","s":"Ferrous.","x":5,"v":-2.2},{"p":"CO2","r":"Central","s":"Ferrous.","x":10,"v":-4.2},{"p":"CO2","r":"Central","s":"Ferrous.","x":15,"v":-6.3},{"p":"CO2","r":"Central","s":"Ferrous.","x":20,"v":-8.3},{"p":"CO2","r":"Central","s":"Ferrous.","x":25,"v":-10.3},{"p":"CO2","r":"Central","s":"Ferrous.","x":30,"v":-12.4},
{"p":"CO2","r":"Central","s":"Non-ferrous.","x":5,"v":-2.1},{"p":"CO2","r":"Central","s":"Non-ferrous.","x":10,"v":-4.0},{"p":"CO2","r":"Central","s":"Non-ferrous.","x":15,"v":-6.0},{"p":"CO2","r":"Central","s":"Non-ferrous.","x":20,"v":-7.9},{"p":"CO2","r":"Central","s":"Non-ferrous.","x":25,"v":-9.9},{"p":"CO2","r":"Central","s":"Non-ferrous.","x":30,"v":-11.9},
{"p":"CO2","r":"Western","s":"Paper.","x":5,"v":-2.0},{"p":"CO2","r":"Western","s":"Paper.","x":10,"v":-3.9},{"p":"CO2","r":"Western","s":"Paper.","x":15,"v":-5.8},{"p":"CO2","r":"Western","s":"Paper.","x":20,"v":-7.7},{"p":"CO2","r":"Western","s":"Paper.","x":25,"v":-9.6},{"p":"CO2","r":"Western","s":"Paper.","x":30,"v":-11.5},
{"p":"CO2","r":"Western","s":"Petroleum.","x":5,"v":-2.1},{"p":"CO2","r":"Western","s":"Petroleum.","x":10,"v":-4.0},{"p":"CO2","r":"Western","s":"Petroleum.","x":15,"v":-5.9},{"p":"CO2","r":"Western","s":"Petroleum.","x":20,"v":-7.8},{"p":"CO2","r":"Western","s":"Petroleum.","x":25,"v":-9.8},{"p":"CO2","r":"Western","s":"Petroleum.","x":30,"v":-11.7},
{"p":"CO2","r":"Western","s":"Chemical.","x":5,"v":-1.9},{"p":"CO2","r":"Western","s":"Chemical.","x":10,"v":-3.8},{"p":"CO2","r":"Western","s":"Chemical.","x":15,"v":-5.7},{"p":"CO2","r":"Western","s":"Chemical.","x":20,"v":-7.6},{"p":"CO2","r":"Western","s":"Chemical.","x":25,"v":-9.4},{"p":"CO2","r":"Western","s":"Chemical.","x":30,"v":-11.3},
{"p":"CO2","r":"Western","s":"Non-metallic.","x":5,"v":-2.1},{"p":"CO2","r":"Western","s":"Non-metallic.","x":10,"v":-4.0},{"p":"CO2","r":"Western","s":"Non-metallic.","x":15,"v":-6.0},{"p":"CO2","r":"Western","s":"Non-metallic.","x":20,"v":-7.9},{"p":"CO2","r":"Western","s":"Non-metallic.","x":25,"v":-9.9},{"p":"CO2","r":"Western","s":"Non-metallic.","x":30,"v":-11.8},
{"p":"CO2","r":"Western","s":"Ferrous.","x":5,"v":-2.1},{"p":"CO2","r":"Western","s":"Ferrous.","x":10,"v":-4.1},{"p":"CO2","r":"Western","s":"Ferrous.","x":15,"v":-6.0},{"p":"CO2","r":"Western","s":"Ferrous.","x":20,"v":-8.0},{"p":"CO2","r":"Western","s":"Ferrous.","x":25,"v":-10.0},{"p":"CO2","r":"Western","s":"Ferrous.","x":30,"v":-12.0},
{"p":"CO2","r":"Western","s":"Non-ferrous.","x":5,"v":-1.9},{"p":"CO2","r":"Western","s":"Non-ferrous.","x":10,"v":-3.7},{"p":"CO2","r":"Western","s":"Non-ferrous.","x":15,"v":-5.6},{"p":"CO2","r":"Western","s":"Non-ferrous.","x":20,"v":-7.4},{"p":"CO2","r":"Western","s":"Non-ferrous.","x":25,"v":-9.3},{"p":"CO2","r":"Western","s":"Non-ferrous.","x":30,"v":-11.1},
{"p":"CO2","r":"National","s":"Paper.","x":5,"v":-2.2},{"p":"CO2","r":"National","s":"Paper.","x":10,"v":-4.1},{"p":"CO2","r":"National","s":"Paper.","x":15,"v":-6.1},{"p":"CO2","r":"National","s":"Paper.","x":20,"v":-8.1},{"p":"CO2","r":"National","s":"Paper.","x":25,"v":-10.0},{"p":"CO2","r":"National","s":"Paper.","x":30,"v":-12.0},
{"p":"CO2","r":"National","s":"Petroleum.","x":5,"v":-2.2},{"p":"CO2","r":"National","s":"Petroleum.","x":10,"v":-4.2},{"p":"CO2","r":"National","s":"Petroleum.","x":15,"v":-6.2},{"p":"CO2","r":"National","s":"Petroleum.","x":20,"v":-8.2},{"p":"CO2","r":"National","s":"Petroleum.","x":25,"v":-10.2},{"p":"CO2","r":"National","s":"Petroleum.","x":30,"v":-12.2},
{"p":"CO2","r":"National","s":"Chemical.","x":5,"v":-2.1},{"p":"CO2","r":"National","s":"Chemical.","x":10,"v":-4.0},{"p":"CO2","r":"National","s":"Chemical.","x":15,"v":-6.0},{"p":"CO2","r":"National","s":"Chemical.","x":20,"v":-7.9},{"p":"CO2","r":"National","s":"Chemical.","x":25,"v":-9.9},{"p":"CO2","r":"National","s":"Chemical.","x":30,"v":-11.8},
{"p":"CO2","r":"National","s":"Non-metallic.","x":5,"v":-2.3},{"p":"CO2","r":"National","s":"Non-metallic.","x":10,"v":-4.3},{"p":"CO2","r":"National","s":"Non-metallic.","x":15,"v":-6.3},{"p":"CO2","r":"National","s":"Non-metallic.","x":20,"v":-8.3},{"p":"CO2","r":"National","s":"Non-metallic.","x":25,"v":-10.3},{"p":"CO2","r":"National","s":"Non-metallic.","x":30,"v":-12.3},
{"p":"CO2","r":"National","s":"Ferrous.","x":5,"v":-2.2},{"p":"CO2","r":"National","s":"Ferrous.","x":10,"v":-4.2},{"p":"CO2","r":"National","s":"Ferrous.","x":15,"v":-6.2},{"p":"CO2","r":"National","s":"Ferrous.","x":20,"v":-8.2},{"p":"CO2","r":"National","s":"Ferrous.","x":25,"v":-10.3},{"p":"CO2","r":"National","s":"Ferrous.","x":30,"v":-12.3},
{"p":"CO2","r":"National","s":"Non-ferrous.","x":5,"v":-2.1},{"p":"CO2","r":"National","s":"Non-ferrous.","x":10,"v":-4.0},{"p":"CO2","r":"National","s":"Non-ferrous.","x":15,"v":-5.9},{"p":"CO2","r":"National","s":"Non-ferrous.","x":20,"v":-7.8},{"p":"CO2","r":"National","s":"Non-ferrous.","x":25,"v":-9.8},{"p":"CO2","r":"National","s":"Non-ferrous.","x":30,"v":-11.7}
]},
"spacing":-8,
"vconcat":[
{"title":{"text":"a","offset":-10},
"transform":[{"filter":"datum.p === 'SO2'"}],
"facet":{"column":{"field":"r","type":"nominal","sort":["Eastern","Central","Western","National"],"header":{"title":null,"labelFontSize":10.5,"labelPadding":2}}},
"spacing":14,
"bounds":"flush",
"spec":{"width":130,"height":65,"layer":[
{"mark":{"type":"rule","color":"#c4c4c4","strokeDash":[5,4],"strokeWidth":1.2},"encoding":{"y":{"datum":0,"type":"quantitative"}}},
{"mark":{"type":"line","strokeWidth":1},"encoding":{
"x":{"field":"x","type":"quantitative","scale":{"domain":[3.8,31.2],"nice":false},"axis":{"tickCount":6,"labels":false,"title":null,"labelOverlap":false}},
"y":{"field":"v","type":"quantitative","scale":{"domain":[-41,10],"nice":false,"zero":false},"axis":{"tickCount":6,"title":"SO₂ (%)","labelOverlap":false}},
"color":{"field":"s","type":"nominal","title":"Assumed Percentage (%)","scale":{"domain":["Paper.","Petroleum.","Chemical.","Non-metallic.","Ferrous.","Non-ferrous."],"range":["#b22a3a","#1a1aaa","#2e8b3e","#852a94","#f2a03a","#4cc6e8"]},"legend":{"orient":"none","legendX":10,"legendY":320,"direction":"horizontal","titleAnchor":"middle","titleOrient":"top","titleFontSize":8,"titleFontWeight":"normal","titleColor":"#222222","labelFontSize":8,"labelColor":"#222222","symbolType":"M-2,0L2,0M0.3,0A0.3,0.3 0 1,1 -0.3,0A0.3,0.3 0 1,1 0.3,0","symbolSize":100,"symbolStrokeWidth":1.2,"columnPadding":12,"labelOffset":14,"titlePadding":5}}}},
{"mark":{"type":"point","filled":true,"shape":"circle","size":16,"opacity":1},"encoding":{
"x":{"field":"x","type":"quantitative"},
"y":{"field":"v","type":"quantitative"},
"color":{"field":"s","type":"nominal","title":"Assumed Percentage (%)"}}}
]}},
{"title":{"text":"b","offset":1},
"transform":[{"filter":"datum.p === 'NOx'"}],
"facet":{"column":{"field":"r","type":"nominal","sort":["Eastern","Central","Western","National"],"header":{"title":null,"labels":false}}},
"spacing":14,
"bounds":"flush",
"spec":{"width":130,"height":65,"layer":[
{"mark":{"type":"rule","color":"#c4c4c4","strokeDash":[5,4],"strokeWidth":1.2},"encoding":{"y":{"datum":0,"type":"quantitative"}}},
{"mark":{"type":"line","strokeWidth":1},"encoding":{
"x":{"field":"x","type":"quantitative","scale":{"domain":[3.8,31.2],"nice":false},"axis":{"tickCount":6,"labels":false,"title":null,"labelOverlap":false}},
"y":{"field":"v","type":"quantitative","scale":{"domain":[-41,10],"nice":false,"zero":false},"axis":{"tickCount":6,"title":"NOₓ (%)","labelOverlap":false}},
"color":{"field":"s","type":"nominal","title":"Assumed Percentage (%)","scale":{"domain":["Paper.","Petroleum.","Chemical.","Non-metallic.","Ferrous.","Non-ferrous."],"range":["#b22a3a","#1a1aaa","#2e8b3e","#852a94","#f2a03a","#4cc6e8"]}}}},
{"mark":{"type":"point","filled":true,"shape":"circle","size":16,"opacity":1},"encoding":{
"x":{"field":"x","type":"quantitative"},
"y":{"field":"v","type":"quantitative"},
"color":{"field":"s","type":"nominal","title":"Assumed Percentage (%)"}}}
]}},
{"title":{"text":"c","offset":1},
"transform":[{"filter":"datum.p === 'PM'"}],
"facet":{"column":{"field":"r","type":"nominal","sort":["Eastern","Central","Western","National"],"header":{"title":null,"labels":false}}},
"spacing":14,
"bounds":"flush",
"spec":{"width":130,"height":65,"layer":[
{"mark":{"type":"rule","color":"#c4c4c4","strokeDash":[5,4],"strokeWidth":1.2},"encoding":{"y":{"datum":0,"type":"quantitative"}}},
{"mark":{"type":"line","strokeWidth":1},"encoding":{
"x":{"field":"x","type":"quantitative","scale":{"domain":[3.8,31.2],"nice":false},"axis":{"tickCount":6,"labels":false,"title":null,"labelOverlap":false}},
"y":{"field":"v","type":"quantitative","scale":{"domain":[-41,10],"nice":false,"zero":false},"axis":{"tickCount":6,"title":"PM (%)","labelOverlap":false}},
"color":{"field":"s","type":"nominal","title":"Assumed Percentage (%)","scale":{"domain":["Paper.","Petroleum.","Chemical.","Non-metallic.","Ferrous.","Non-ferrous."],"range":["#b22a3a","#1a1aaa","#2e8b3e","#852a94","#f2a03a","#4cc6e8"]}}}},
{"mark":{"type":"point","filled":true,"shape":"circle","size":16,"opacity":1},"encoding":{
"x":{"field":"x","type":"quantitative"},
"y":{"field":"v","type":"quantitative"},
"color":{"field":"s","type":"nominal","title":"Assumed Percentage (%)"}}}
]}},
{"title":{"text":"d","offset":1},
"transform":[{"filter":"datum.p === 'CO2'"}],
"facet":{"column":{"field":"r","type":"nominal","sort":["Eastern","Central","Western","National"],"header":{"title":null,"labels":false}}},
"spacing":14,
"bounds":"flush",
"spec":{"width":130,"height":65,"layer":[
{"mark":{"type":"rule","color":"#c4c4c4","strokeDash":[5,4],"strokeWidth":1.2},"encoding":{"y":{"datum":0,"type":"quantitative"}}},
{"mark":{"type":"line","strokeWidth":1},"encoding":{
"x":{"field":"x","type":"quantitative","scale":{"domain":[3.8,31.2],"nice":false},"axis":{"tickCount":6,"title":null,"labelPadding":2,"labelOverlap":false}},
"y":{"field":"v","type":"quantitative","scale":{"domain":[-41,10],"nice":false,"zero":false},"axis":{"tickCount":6,"title":"CO₂ (%)","labelOverlap":false}},
"color":{"field":"s","type":"nominal","title":"Assumed Percentage (%)","scale":{"domain":["Paper.","Petroleum.","Chemical.","Non-metallic.","Ferrous.","Non-ferrous."],"range":["#b22a3a","#1a1aaa","#2e8b3e","#852a94","#f2a03a","#4cc6e8"]}}}},
{"mark":{"type":"point","filled":true,"shape":"circle","size":16,"opacity":1},"encoding":{
"x":{"field":"x","type":"quantitative"},
"y":{"field":"v","type":"quantitative"},
"color":{"field":"s","type":"nominal","title":"Assumed Percentage (%)"}}}
]}}
]
}
